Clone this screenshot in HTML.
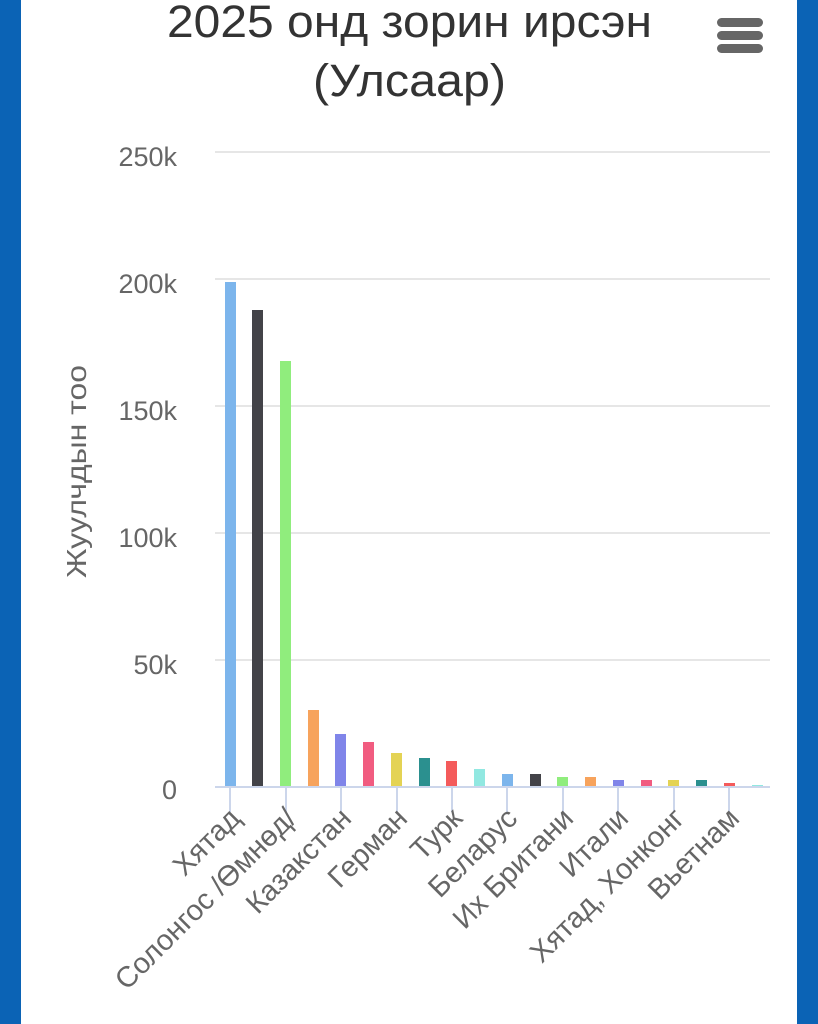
<!DOCTYPE html>
<html><head><meta charset="utf-8"><style>
html,body{margin:0;padding:0;background:#fff;width:818px;height:1024px;overflow:hidden}
</style></head><body>
<svg width="818" height="1024" xmlns="http://www.w3.org/2000/svg" font-family="Liberation Sans, DejaVu Sans, sans-serif">
<rect x="0" y="0" width="818" height="1024" fill="#fff"/>
<rect x="0" y="0" width="21" height="1024" fill="#0b63b5"/>
<rect x="797" y="0" width="21" height="1024" fill="#0b63b5"/>
<text x="167" y="37" font-size="45" fill="#333" textLength="485" lengthAdjust="spacingAndGlyphs">2025 онд зорин ирсэн</text>
<text x="313" y="96" font-size="45" fill="#333" textLength="193" lengthAdjust="spacingAndGlyphs">(Улсаар)</text>
<g fill="#666"><rect x="717" y="18" width="46" height="9" rx="4.5"/><rect x="717" y="31" width="46" height="9" rx="4.5"/><rect x="717" y="44" width="46" height="9" rx="4.5"/></g>
<g stroke="#e6e6e6" stroke-width="2">
<line x1="215" x2="770" y1="152" y2="152"/><line x1="215" x2="770" y1="279" y2="279"/><line x1="215" x2="770" y1="406" y2="406"/><line x1="215" x2="770" y1="533" y2="533"/><line x1="215" x2="770" y1="660" y2="660"/>
</g>
<g font-size="27" fill="#666" text-anchor="end">
<text x="177" y="166">250k</text><text x="177" y="293">200k</text><text x="177" y="420">150k</text><text x="177" y="547">100k</text><text x="177" y="674">50k</text><text x="177" y="799">0</text>
</g>
<text transform="translate(86,578) rotate(-90)" font-size="28" fill="#666" textLength="213" lengthAdjust="spacingAndGlyphs">Жуулчдын тоо</text>
<g>
<rect x="225" y="282" width="11" height="505" fill="#7cb5ec"/>
<rect x="252" y="310" width="11" height="477" fill="#434348"/>
<rect x="280" y="361" width="11" height="426" fill="#90ed7d"/>
<rect x="308" y="710" width="11" height="77" fill="#f7a35c"/>
<rect x="335" y="734" width="11" height="53" fill="#8085e9"/>
<rect x="363" y="742" width="11" height="45" fill="#f15c80"/>
<rect x="391" y="753" width="11" height="34" fill="#e4d354"/>
<rect x="419" y="758" width="11" height="29" fill="#2b908f"/>
<rect x="446" y="761" width="11" height="26" fill="#f45b5b"/>
<rect x="474" y="769" width="11" height="18" fill="#91e8e1"/>
<rect x="502" y="774" width="11" height="13" fill="#7cb5ec"/>
<rect x="530" y="774" width="11" height="13" fill="#434348"/>
<rect x="557" y="777" width="11" height="10" fill="#90ed7d"/>
<rect x="585" y="777" width="11" height="10" fill="#f7a35c"/>
<rect x="613" y="780" width="11" height="7" fill="#8085e9"/>
<rect x="641" y="780" width="11" height="7" fill="#f15c80"/>
<rect x="668" y="780" width="11" height="7" fill="#e4d354"/>
<rect x="696" y="780" width="11" height="7" fill="#2b908f"/>
<rect x="724" y="783" width="11" height="4" fill="#f45b5b"/>
<rect x="752" y="785" width="11" height="2" fill="#91e8e1"/>
</g>
<line x1="215" x2="770" y1="787" y2="787" stroke="#ccd6eb" stroke-width="2"/>
<g stroke="#ccd6eb" stroke-width="2">
<line x1="230" x2="230" y1="787" y2="812"/><line x1="286" x2="286" y1="787" y2="812"/><line x1="341" x2="341" y1="787" y2="812"/><line x1="397" x2="397" y1="787" y2="812"/><line x1="452" x2="452" y1="787" y2="812"/><line x1="507" x2="507" y1="787" y2="812"/><line x1="563" x2="563" y1="787" y2="812"/><line x1="618" x2="618" y1="787" y2="812"/><line x1="674" x2="674" y1="787" y2="812"/><line x1="729" x2="729" y1="787" y2="812"/>
</g>
<g font-size="29" fill="#666" text-anchor="end">
<text transform="translate(242,820) rotate(-45)">Хятад</text>
<text transform="translate(298,820) rotate(-45)">Солонгос /Өмнөд/</text>
<text transform="translate(353,820) rotate(-45)">Казакстан</text>
<text transform="translate(409,820) rotate(-45)">Герман</text>
<text transform="translate(464,820) rotate(-45)">Турк</text>
<text transform="translate(519,820) rotate(-45)">Беларус</text>
<text transform="translate(575,820) rotate(-45)">Их Британи</text>
<text transform="translate(630,820) rotate(-45)">Итали</text>
<text transform="translate(686,820) rotate(-45)">Хятад, Хонконг</text>
<text transform="translate(741,820) rotate(-45)">Вьетнам</text>
</g>
</svg>
</body></html>
